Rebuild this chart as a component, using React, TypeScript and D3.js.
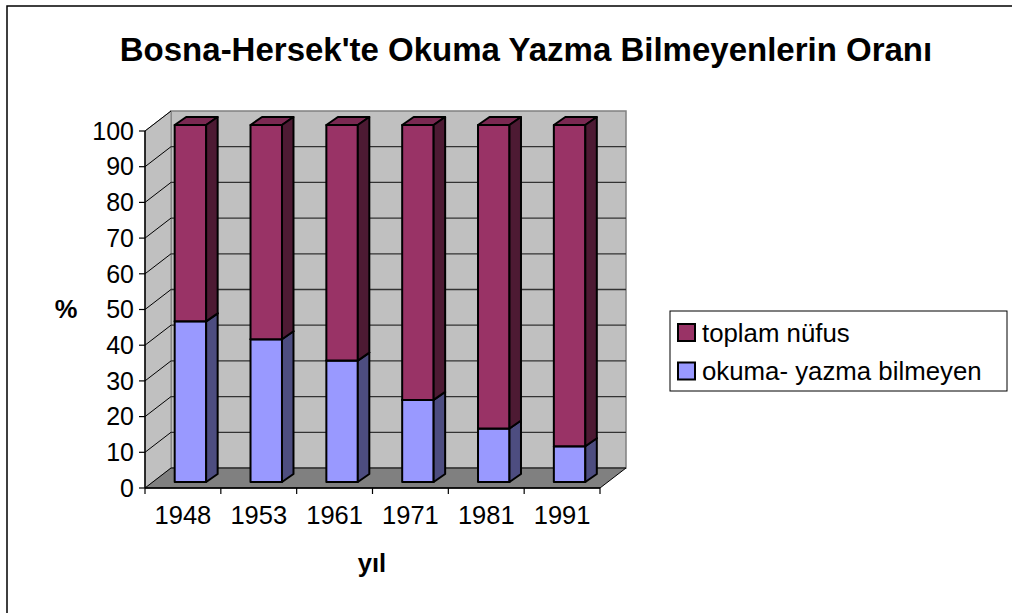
import * as d3 from 'd3';

const years = ['1948', '1953', '1961', '1971', '1981', '1991'];
// okuma- yazma bilmeyen (%)
const illiterate = [45, 40, 34, 23, 15, 10];
// toplam nüfus (rest up to 100)
const totalRest = [55, 60, 66, 77, 85, 90];
const yTicks = [0, 10, 20, 30, 40, 50, 60, 70, 80, 90, 100];

const seriesNames = ['toplam nüfus', 'okuma- yazma bilmeyen'];

const FONT = 'Arial, "Liberation Sans", sans-serif';

// wall depth and bar depth offsets (pseudo 3D)
const wallDx = 26;
const wallDy = -20;
const barOffX = 7.5;
const barOffY = -6;
const barDx = 11.5;
const barDy = -8;

const colors = {
  purple: { front: '#993366', top: '#7a2952', side: '#4d1a33' },
  blue: { front: '#9999ff', top: '#7a7acc', side: '#4d4d80' },
};

const App = () => {
  const x = d3.scaleBand<string>().domain(years).range([145, 600]);
  const y = d3.scaleLinear().domain([0, 100]).range([488, 131]);

  const x0 = x.range()[0];
  const x1 = x.range()[1];
  const yBase = y(0);
  const yTop = y(100);
  const bw = x.bandwidth() * 0.415;

  const pts = (p: number[][]) => p.map((d) => d.join(',')).join(' ');

  // one 3D segment of a stacked column
  const box = (cx: number, lo: number, hi: number, c: { front: string; top: string; side: string }, key: string) => {
    const l = cx - bw / 2 + barOffX;
    const r = cx + bw / 2 + barOffX;
    const t = y(hi) + barOffY;
    const b = y(lo) + barOffY;
    return (
      <g key={key} stroke='#000' strokeWidth={2} strokeLinejoin='round'>
        <rect x={l} y={t} width={r - l} height={b - t} fill={c.front} />
        <polygon points={pts([[l, t], [l + barDx, t + barDy], [r + barDx, t + barDy], [r, t]])} fill={c.top} />
        <polygon points={pts([[r, t], [r + barDx, t + barDy], [r + barDx, b + barDy], [r, b]])} fill={c.side} />
      </g>
    );
  };

  return (
    <svg
      width={1012}
      height={613}
      style={{ position: 'absolute', left: 0, top: 0, background: '#fff' }}
      fontFamily={FONT}
    >
      {/* outer frame (clipped at right/bottom) */}
      <rect x={7} y={6} width={1020} height={620} fill='none' stroke='#000' strokeWidth={1.5} />

      <text x={526} y={61} textAnchor='middle' fontSize={33} fontWeight='bold'>
        Bosna-Hersek'te Okuma Yazma Bilmeyenlerin Oranı
      </text>

      {/* back wall */}
      <rect
        x={x0 + wallDx}
        y={yTop + wallDy}
        width={x1 - x0}
        height={yBase - yTop}
        fill='#c0c0c0'
        stroke='#808080'
        strokeWidth={1.5}
      />
      {/* side wall */}
      <polygon
        points={pts([[x0, yTop], [x0 + wallDx, yTop + wallDy], [x0 + wallDx, yBase + wallDy], [x0, yBase]])}
        fill='#c0c0c0'
        stroke='#808080'
        strokeWidth={1}
      />
      {/* floor */}
      <polygon
        points={pts([[x0, yBase], [x1, yBase], [x1 + wallDx, yBase + wallDy], [x0 + wallDx, yBase + wallDy]])}
        fill='#808080'
        stroke='#000'
        strokeWidth={1}
      />

      {/* gridlines */}
      {yTicks.filter((v) => v > 0).map((v) => (
        <g key={'g' + v}>
          {v < 100 && (
            <line
              x1={x0 + wallDx}
              x2={x1 + wallDx}
              y1={y(v) + wallDy}
              y2={y(v) + wallDy}
              stroke='#333'
              strokeWidth={1.3}
            />
          )}
          <line x1={x0} y1={y(v)} x2={x0 + wallDx} y2={y(v) + wallDy} stroke='#000' strokeWidth={1} />
        </g>
      ))}

      {/* axes */}
      <line x1={x0} x2={x0} y1={yTop} y2={yBase} stroke='#000' strokeWidth={1.5} />
      <line x1={x0} x2={x1} y1={yBase} y2={yBase} stroke='#000' strokeWidth={1.5} />
      {yTicks.map((v) => (
        <g key={'t' + v}>
          <line x1={x0 - 6} x2={x0} y1={y(v)} y2={y(v)} stroke='#000' strokeWidth={1.2} />
          <text x={x0 - 11} y={y(v)} dy='0.35em' textAnchor='end' fontSize={25}>
            {v}
          </text>
        </g>
      ))}
      {[...years.map((d) => x(d) as number), x1].map((px, i) => (
        <line key={'xt' + i} x1={px} x2={px} y1={yBase} y2={yBase + 6} stroke='#000' strokeWidth={1.2} />
      ))}
      {years.map((d) => (
        <text key={'xl' + d} x={(x(d) as number) + x.bandwidth() / 2} y={524} textAnchor='middle' fontSize={25.5}>
          {d}
        </text>
      ))}

      {/* bars */}
      {years.map((d, i) => {
        const cx = (x(d) as number) + x.bandwidth() / 2;
        return (
          <g key={'b' + d}>
            {box(cx, 0, illiterate[i], colors.blue, 'lo')}
            {box(cx, illiterate[i], illiterate[i] + totalRest[i], colors.purple, 'hi')}
          </g>
        );
      })}

      {/* axis titles */}
      <text x={66} y={318} textAnchor='middle' fontSize={25.5} fontWeight='bold'>
        %
      </text>
      <text x={372} y={572} textAnchor='middle' fontSize={25.5} fontWeight='bold'>
        yıl
      </text>

      {/* legend */}
      <rect x={670} y={311} width={337} height={80} fill='#fff' stroke='#000' strokeWidth={1} />
      {seriesNames.map((name, i) => (
        <g key={name}>
          <rect
            x={678}
            y={324 + i * 38.5}
            width={17}
            height={17}
            fill={i === 0 ? colors.purple.front : colors.blue.front}
            stroke='#000'
            strokeWidth={2}
          />
          <text x={702} y={332.5 + i * 38.5} dy='0.35em' fontSize={25.8}>
            {name}
          </text>
        </g>
      ))}
    </svg>
  );
};

export default App;
